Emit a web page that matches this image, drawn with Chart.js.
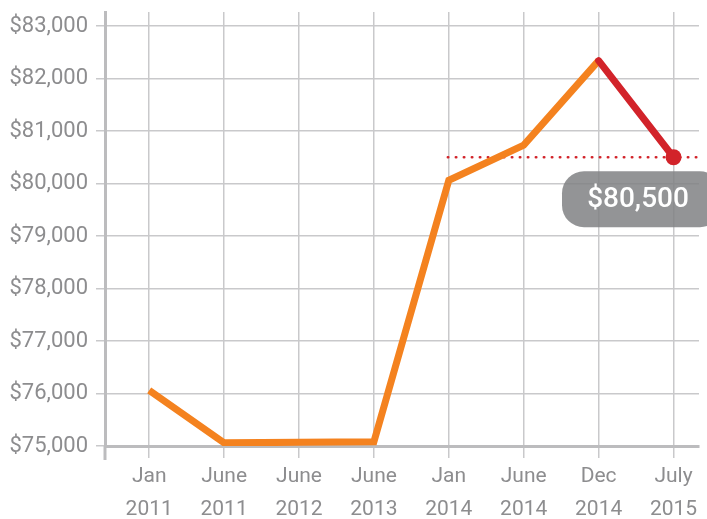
<!DOCTYPE html>
<html>
<head>
<meta charset="utf-8">
<script src="https://cdn.jsdelivr.net/npm/chart.js@4"></script>
<style>
  body { margin: 0; background: #fff; }
  canvas { display: block; }
</style>
</head>
<body>
<canvas id="salaryChart" width="707" height="519"></canvas>
<script>
// ---------------------------- data ------------------------------
var months = [['Jan', '2011'], ['June', '2011'], ['June', '2012'], ['June', '2013'],
              ['Jan', '2014'], ['June', '2014'], ['Dec', '2014'], ['July', '2015']];
var salary = [76060, 75060, 75070, 75080, 80060, 80730, 82340, 80500];
var yTicks = [75000, 76000, 77000, 78000, 79000, 80000, 81000, 82000, 83000];
var latest = 80500;

var orange = '#F4821F';
var red = '#D2232A';
var gridGray = '#c9c9cb';
var textGray = '#8d8d8f';

// orange runs up to Dec 2014, red from Dec 2014 to the last point
var orangePts = salary.slice(0, 7).map((v, i) => ({ x: i, y: v }));
var redPts = salary.slice(6).map((v, i) => ({ x: i + 6, y: v }));

function money(v) {
    return '$' + v.toLocaleString('en-US');
}

// dotted guide line + grey value badge
var markerPlugin = {
    id: 'marker',
    beforeDatasetsDraw(chart) {
        let ctx = chart.ctx;
        let xs = chart.scales.x, ys = chart.scales.y;
        let y = ys.getPixelForValue(latest);
        ctx.save();
        ctx.strokeStyle = red;
        ctx.lineWidth = 2.5;
        ctx.lineCap = 'round';
        ctx.setLineDash([0.5, 7.5]);
        ctx.beginPath();
        ctx.moveTo(xs.getPixelForValue(4) - 1, y);
        ctx.lineTo(chart.chartArea.right, y);
        ctx.stroke();
        ctx.restore();
    },
    afterDatasetsDraw(chart) {
        let ctx = chart.ctx;
        let xs = chart.scales.x, ys = chart.scales.y;
        let y = ys.getPixelForValue(latest);
        ctx.save();
        // y axis runs a little below the x axis
        ctx.strokeStyle = '#bcbcbe';
        ctx.lineWidth = 3;
        ctx.beginPath();
        ctx.moveTo(chart.chartArea.left, chart.chartArea.bottom);
        ctx.lineTo(chart.chartArea.left, chart.chartArea.bottom + 14);
        ctx.stroke();

        ctx.fillStyle = 'rgba(128,129,132,0.85)';
        ctx.beginPath();
        ctx.roundRect(562, y + 14, 160, 56, 22);
        ctx.fill();
        ctx.fillStyle = '#fff';
        ctx.font = '500 28px Roboto';
        ctx.textAlign = 'center';
        ctx.textBaseline = 'middle';
        ctx.fillText(money(latest), 638, y + 43);
        ctx.restore();
    }
};

const config = {
    type: 'line',
    data: {
        datasets: [{
            data: redPts,
            borderColor: red,
            backgroundColor: red,
            borderWidth: 7,
            pointRadius: [0, 8],
            pointBorderWidth: 0,
            borderCapStyle: 'round',
            tension: 0
        }, {
            data: orangePts,
            borderColor: orange,
            borderWidth: 7,
            pointRadius: 0,
            borderJoinStyle: 'miter',
            tension: 0
        }]
    },
    options: {
        responsive: false,
        animation: false,
        layout: { padding: { top: 12, right: 7, left: 0, bottom: 0 } },
        plugins: { legend: { display: false }, tooltip: { enabled: false } },
        scales: {
            x: {
                type: 'linear',
                min: -0.59,
                max: 7.34,
                afterBuildTicks: s => { s.ticks = months.map((m, i) => ({ value: i })); },
                afterFit: s => { s.height = 73; s.paddingLeft = 0; s.paddingRight = 0; },
                grid: { color: gridGray, lineWidth: 1.5, tickLength: 12 },
                border: { color: '#bcbcbe', width: 3 },
                ticks: {
                    color: textGray,
                    font: { family: 'Roboto', size: 21, lineHeight: 1.57 },
                    padding: 2,
                    maxRotation: 0,
                    callback: v => months[v]
                }
            },
            y: {
                min: 75000,
                max: 83267,
                afterBuildTicks: s => { s.ticks = yTicks.map(v => ({ value: v })); },
                afterFit: s => { s.width = 105; s.paddingTop = 0; s.paddingBottom = 0; },
                grid: { color: gridGray, lineWidth: 1.5, tickLength: 9 },
                border: { color: '#bcbcbe', width: 3 },
                ticks: {
                    color: textGray,
                    font: { family: 'Roboto', size: 22 },
                    padding: 8,
                    callback: v => money(v)
                }
            }
        }
    },
    plugins: [markerPlugin]
};

let ctx = document.getElementById('salaryChart').getContext('2d');
new Chart(ctx, config);
</script>
</body>
</html>
